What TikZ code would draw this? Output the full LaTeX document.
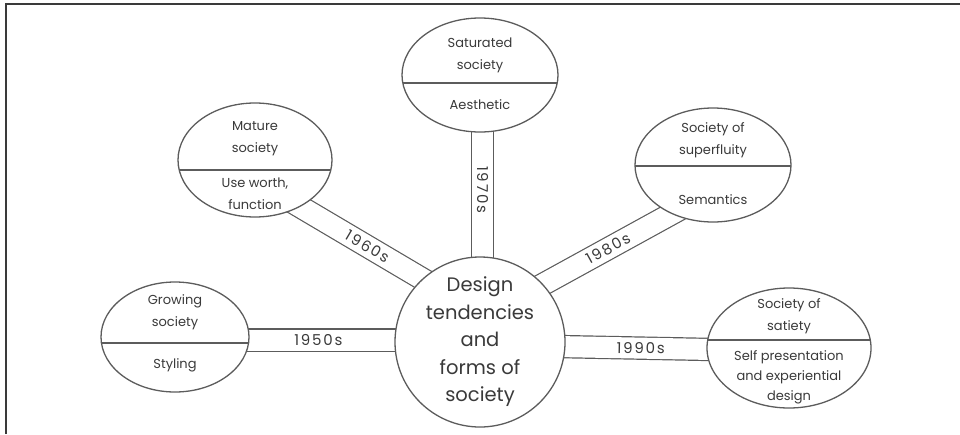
\documentclass[tikz,border=0pt]{standalone}
\usepackage{fontspec}
\setmainfont{Poppins}
\newfontfamily\erafont[LetterSpace=12]{Poppins}
\usetikzlibrary{shapes.geometric,backgrounds}
\definecolor{ink}{HTML}{3A3A3A}
\definecolor{rim}{HTML}{5C5C5C}
\begin{document}
\begin{tikzpicture}[x=1pt,y=-1pt,
  bubble/.style={ellipse,draw=rim,line width=1.3pt,fill=white,inner sep=0pt},
  split/.style={path picture={\draw[rim,line width=1.3pt]
      ([yshift=#1]path picture bounding box.west) --
      ([yshift=#1]path picture bounding box.east);}},
  lbl/.style={text=ink,font=\fontsize{13}{22}\selectfont,align=center,inner sep=0pt},
  hub/.style={circle,draw=rim,line width=1.3pt,fill=white,minimum size=170pt,
      inner sep=0pt,text=ink,font=\fontsize{19.5}{27.5}\selectfont,align=center},
  bar/.style={draw=rim,line width=1.2pt,double=white,double distance=21pt},
  era/.style={text=ink,font=\erafont\fontsize{15}{15}\selectfont,sloped,inner sep=0pt}]

\useasboundingbox (0,0) rectangle (960,434);

% outer frame (top and left edges)
\draw[ink,line width=2pt] (6,434) -- (6,4) -- (960,4);

% central hub
\node[hub] (hub) at (480,342) {Design\\tendencies\\and\\forms of\\society};

% society bubbles, each split into society / design focus
\node[bubble,minimum width=156pt,minimum height=114pt,split=-8pt] (saturated) at (480,75) {};
\node[lbl] (saturated-t) at (480,55) {Saturated\\society};
\node[lbl] (saturated-b) at (480,105) {Aesthetic};

\node[bubble,minimum width=154pt,minimum height=114pt,split=-10pt] (mature) at (255,160) {};
\node[lbl] (mature-t) at (255,139) {Mature\\society};
\node[lbl] (mature-b) at (255,194) {Use worth,\\function};

\node[bubble,minimum width=156pt,minimum height=114pt,split=-1pt] (superfluity) at (713,165) {};
\node[lbl] (superfluity-t) at (713,140) {Society of\\superfluity};
\node[lbl] (superfluity-b) at (713,200) {Semantics};

\node[bubble,minimum width=148pt,minimum height=110pt,split=-6pt] (growing) at (175,337) {};
\node[lbl] (growing-t) at (175,312) {Growing\\society};
\node[lbl] (growing-b) at (175,365) {Styling};

\node[bubble,minimum width=164pt,minimum height=120pt,split=8pt] (satiety) at (789,348) {};
\node[lbl] (satiety-t) at (789,316) {Society of\\satiety};
\node[lbl,font=\fontsize{13}{20}\selectfont] (satiety-b) at (789,377) {Self presentation\\and experiential\\design};

% decade bands, behind the bubbles
\begin{pgfonlayer}{background}
  \draw[bar] ([yshift=-3pt]growing.center) -- ([yshift=2pt]hub.center)
    node[era,pos=0.47] (d50) {1950s};
  \draw[bar] ([yshift=-20pt]mature.center) -- ([yshift=29pt]hub.center)
    node[era,pos=0.5] (d60) {1960s};
  \draw[bar] ([xshift=2.5pt]saturated.center) -- ([xshift=2.5pt]hub.center)
    node[era,pos=0.43] (d70) {1970s};
  \draw[bar] ([yshift=-26pt]superfluity.center) -- ([yshift=23pt]hub.center)
    node[era,pos=0.45] (d80) {1980s};
  \draw[bar] ([yshift=-3pt]hub.center) -- ([yshift=-3pt]satiety.center)
    node[era,pos=0.52] (d90) {1990s};
\end{pgfonlayer}
\end{tikzpicture}
\end{document}
